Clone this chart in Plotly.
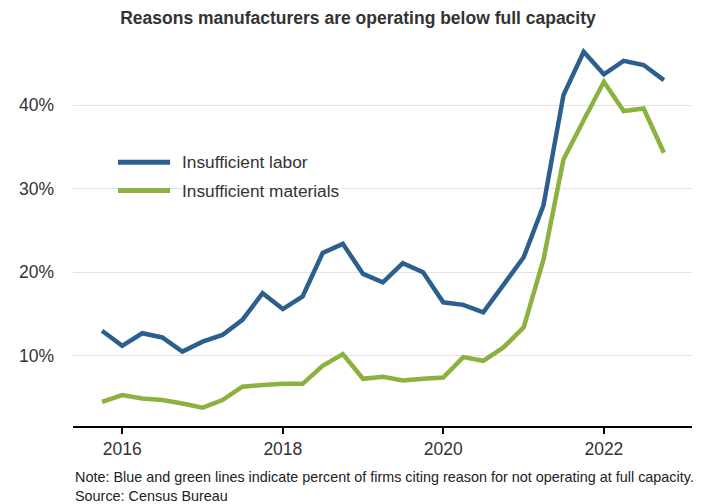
import plotly.graph_objects as go

dates = ["2015-10-01", "2016-01-01", "2016-04-01", "2016-07-01", "2016-10-01",
         "2017-01-01", "2017-04-01", "2017-07-01", "2017-10-01",
         "2018-01-01", "2018-04-01", "2018-07-01", "2018-10-01",
         "2019-01-01", "2019-04-01", "2019-07-01", "2019-10-01",
         "2020-01-01", "2020-04-01", "2020-07-01", "2020-10-01",
         "2021-01-01", "2021-04-01", "2021-07-01", "2021-10-01",
         "2022-01-01", "2022-04-01", "2022-07-01", "2022-10-01"]
labor = [13.0, 11.2, 12.7, 12.2, 10.5, 11.7, 12.5, 14.3, 17.5, 15.6, 17.1, 22.3, 23.4,
         19.8, 18.8, 21.1, 20.0, 16.4, 16.1, 15.2, 18.5, 21.8, 28.0, 41.2, 46.4,
         43.7, 45.3, 44.8, 43.0]
materials = [4.5, 5.3, 4.9, 4.7, 4.3, 3.8, 4.7, 6.3, 6.5, 6.65, 6.65, 8.8, 10.2,
             7.25, 7.5, 7.05, 7.25, 7.4, 9.85, 9.4, 11.0, 13.4, 21.5, 33.5, 38.2,
             42.8, 39.3, 39.6, 34.3]
series_names = ["Insufficient labor", "Insufficient materials"]
colors = ["#2D5F8E", "#8BB23F"]
y_ticks = [10, 20, 30, 40]
y_labels = ["10%", "20%", "30%", "40%"]
note_text = ("Note: Blue and green lines indicate percent of firms citing reason for not operating at full capacity."
             "<br>Source: Census Bureau")

FONT = "Liberation Sans, Arial, sans-serif"

fig = go.Figure()
for name, vals, col in zip(series_names, [labor, materials], colors):
    fig.add_trace(go.Scatter(x=dates, y=vals, mode="lines", name=name,
                             line=dict(color=col, width=4.5), showlegend=False))

# manual legend
leg_y = [0.683, 0.610]
for name, col, yy in zip(series_names, colors, leg_y):
    fig.add_shape(type="line", xref="paper", yref="paper", x0=0.0727, x1=0.1569,
                  y0=yy, y1=yy, line=dict(color=col, width=5))
    fig.add_annotation(xref="paper", yref="paper", x=0.173, y=yy, text=name,
                       showarrow=False, xanchor="left", yanchor="middle",
                       font=dict(family=FONT, size=17.3, color="#333333"))

# note + source in one block (line height ~1.3em at 11.5px*... scaled via size)
fig.add_annotation(xref="paper", yref="paper", x=0.0, y=-0.1565, text=note_text,
                   showarrow=False, xanchor="left", yanchor="middle", align="left",
                   font=dict(family=FONT, size=14.4, color="#222222"))

fig.update_layout(
    width=716, height=504,
    margin=dict(l=73, r=24, t=40, b=78),
    paper_bgcolor="white", plot_bgcolor="white",
    title=dict(text="<b>Reasons manufacturers are operating below full capacity</b>",
               x=0.5, xanchor="center", y=0.965, yanchor="middle",
               font=dict(family=FONT, size=17.5, color="#333333")),
    font=dict(family=FONT, size=17, color="#333333"),
    xaxis=dict(type="date", range=["2015-05-22", "2023-02-06"],
               tick0="2016-01-01", dtick="M24", tickformat="%Y",
               showgrid=False, showline=True, linecolor="black", linewidth=2,
               ticks="outside", ticklen=6, tickwidth=1.5, tickcolor="black",
               tickfont=dict(size=17.5, color="#333333"), zeroline=False),
    yaxis=dict(range=[1.6, 47.8], tickvals=y_ticks, ticktext=y_labels,
               showgrid=True, gridcolor="#E3E3E3", gridwidth=1, zeroline=False,
               showline=False, ticks="", ticklabelstandoff=18,
               tickfont=dict(size=17.5, color="#333333")),
)

fig.write_html("out.html")
